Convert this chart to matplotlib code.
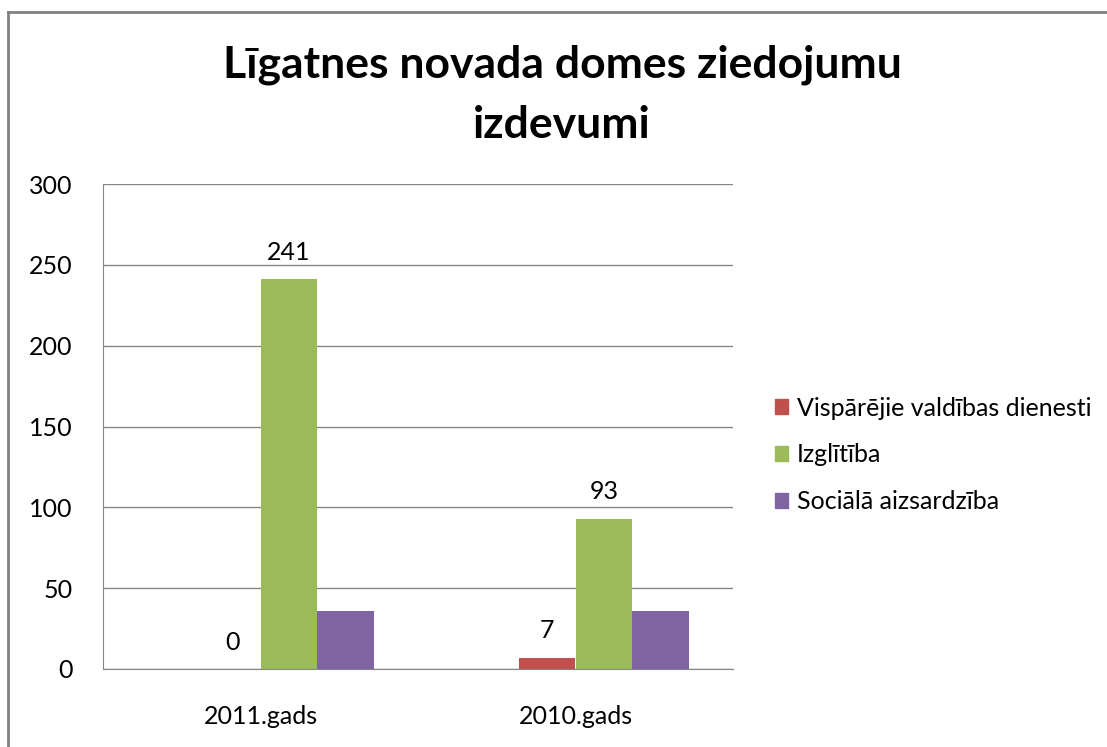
import matplotlib.pyplot as plt
import numpy as np
from matplotlib.lines import Line2D

# --- dati ---
years = ['2011.gads', '2010.gads']
series_names = ['Vispārējie valdības dienesti', 'Izglītība', 'Sociālā aizsardzība']
visparejie = [0, 7]
izglitiba = [241, 93]
sociala = [36, 36]
colors = ['#C0504D', '#9BBB59', '#8064A2']
show_labels = [True, True, False]

plt.rcParams['font.family'] = ['Lato', 'DejaVu Sans']

fig = plt.figure(figsize=(11.07, 7.47), dpi=100)
ax = fig.add_axes([103/1107, 1 - 669/747, (733 - 103)/1107, (669 - 184)/747])

x = np.arange(len(years))
bar_w = 0.18
# Excel grupa ar 4 vietām, pirmā tukša
offsets = [-0.5 * bar_w, 0.5 * bar_w, 1.5 * bar_w]
all_vals = [visparejie, izglitiba, sociala]

for vals, off, col, name, lab in zip(all_vals, offsets, colors, series_names, show_labels):
    bars = ax.bar(x + off, vals, bar_w, color=col, label=name, zorder=3)
    if lab:
        ax.bar_label(bars, labels=[str(v) for v in vals], padding=11, fontsize=18)

ax.set_xlim(-0.5, 1.5)
ax.set_ylim(0, 300)
ax.set_yticks(np.arange(0, 301, 50))
ax.set_xticks(x)
ax.set_xticklabels(years)
ax.tick_params(axis='both', length=0, labelsize=18)
ax.tick_params(axis='y', pad=22)
ax.tick_params(axis='x', pad=26)
ax.yaxis.grid(True, color='#868686', linewidth=1, zorder=0)
for s in ['top', 'right']:
    ax.spines[s].set_visible(False)
ax.spines['left'].set_color('#868686')
ax.spines['bottom'].set_color('#868686')

handles = [plt.Rectangle((0, 0), 1, 1, color=c) for c in colors]
fig.legend(handles, series_names, loc='center left', bbox_to_anchor=(752/1107, 1 - 455/747),
           frameon=False, fontsize=18, handlelength=0.55, handleheight=0.55,
           handletextpad=0.35, labelspacing=0.95)

fig.text(562/1107, 1 - 95/747, 'Līgatnes novada domes ziedojumu\nizdevumi',
         ha='center', va='center', fontsize=32, fontweight='bold', linespacing=1.6)

# rāmis ap diagrammu
fig.add_artist(Line2D([8/1107, 8/1107], [0, 1 - 12/747], color='#808080', linewidth=2))
fig.add_artist(Line2D([8/1107, 1], [1 - 12/747, 1 - 12/747], color='#808080', linewidth=2))

plt.savefig('out.png')
